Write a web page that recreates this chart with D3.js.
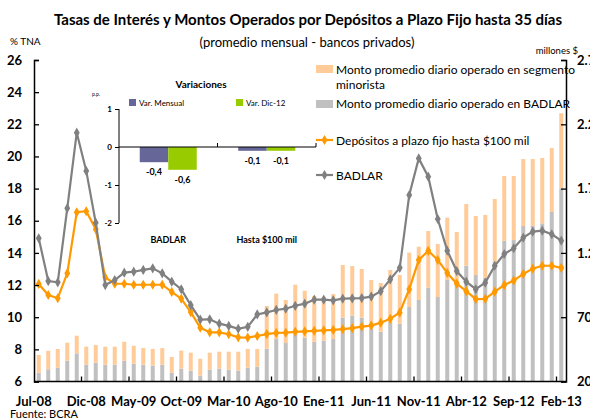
<!DOCTYPE html>
<html>
<head>
<meta charset="utf-8">
<title>Tasas de Interés y Montos Operados</title>
<script src="https://d3js.org/d3.v7.min.js"></script>
<style>
  body { margin: 0; background: #fff; }
  text { font-family: Lato, "Open Sans", sans-serif; fill: #000; }
</style>
</head>
<body>
<svg id="chart"></svg>
<script>
// meses Jul-08 .. Feb-13
var meses = ["Jul-08","Ago-08","Sep-08","Oct-08","Nov-08","Dic-08",
  "Ene-09","Feb-09","Mar-09","Abr-09","May-09","Jun-09","Jul-09","Ago-09","Sep-09","Oct-09","Nov-09","Dic-09",
  "Ene-10","Feb-10","Mar-10","Abr-10","May-10","Jun-10","Jul-10","Ago-10","Sep-10","Oct-10","Nov-10","Dic-10",
  "Ene-11","Feb-11","Mar-11","Abr-11","May-11","Jun-11","Jul-11","Ago-11","Sep-11","Oct-11","Nov-11","Dic-11",
  "Ene-12","Feb-12","Mar-12","Abr-12","May-12","Jun-12","Jul-12","Ago-12","Sep-12","Oct-12","Nov-12","Dic-12",
  "Ene-13","Feb-13"];
var etiquetasX = ["Jul-08","Dic-08","May-09","Oct-09","Mar-10","Ago-10","Ene-11","Jun-11","Nov-11","Abr-12","Sep-12","Feb-13"];

// montos (millones $)
var montoBadlar = [268,295,307,362,419,331,346,331,331,362,338,331,323,331,268,300,284,245,292,300,292,284,307,315,
  455,530,499,567,541,509,517,530,696,712,696,611,587,665,649,779,834,929,857,989,950,1100,1028,1007,1127,1293,1300,
  1409,1409,1430,1518,1702];
var montoMinorista = [138,144,146,140,137,140,138,140,140,147,140,129,130,129,123,140,140,132,132,132,140,148,146,138,
  332,353,335,386,365,356,342,350,410,386,379,378,379,402,379,423,414,441,412,485,413,480,459,488,492,505,498,
  521,521,508,497,584];

// tasas (% TNA)
var tasaBadlar = [14.91,12.25,12.17,16.77,21.48,19.1,15.88,12.0,12.31,12.77,12.83,12.94,13.04,12.73,12.21,11.74,10.75,9.85,
  9.87,9.6,9.46,9.28,9.4,10.17,10.3,10.45,10.53,10.71,10.84,11.09,11.09,11.05,11.15,11.17,11.19,11.28,11.62,12.35,13.07,
  17.6,19.88,18.74,16.11,14.14,12.87,12.21,11.74,12.15,13.2,13.93,14.29,14.95,15.32,15.38,15.16,14.76];
var tasaHasta100 = [12.07,11.38,11.18,12.73,16.53,16.59,15.47,12.48,12.08,12.08,12.02,12.02,12.02,12.02,11.57,11.15,10.32,9.35,
  9.06,9.06,8.94,8.75,8.73,8.83,8.95,9.02,9.04,9.09,9.12,9.15,9.18,9.21,9.26,9.32,9.41,9.48,9.66,9.9,10.29,
  11.74,13.56,14.13,13.56,12.75,12.09,11.62,11.13,11.14,11.59,12.0,12.28,12.69,13.02,13.2,13.2,13.07];

// recuadro de variaciones (p.p.)
var varCategorias = ["BADLAR","Hasta $100 mil"];
var varMensual = [-0.4,-0.1];
var varDic12 = [-0.6,-0.1];

var ticksIzq = [6,8,10,12,14,16,18,20,22,24,26];
var ticksDer = [200,700,1200,1700,2200,2700];

var W = 590, H = 419;
var pLeft = 34, pRight = 566, pTop = 60, pBottom = 381.5;

var svg = d3.select("#chart").attr("width", W).attr("height", H);

var x = d3.scaleBand().domain(meses).range([pLeft, pRight]);
var yL = d3.scaleLinear().domain([6, 26]).range([pBottom, pTop]);
var yR = d3.scaleLinear().domain([200, 2700]).range([pBottom, pTop]);
var bw = 4;
var locAR = d3.formatLocale({decimal: ",", thousands: ".", grouping: [3], currency: ["$",""], minus: "-"});

// barras apiladas
var barras = svg.append("g");
barras.selectAll("rect.gris").data(meses).enter().append("rect")
  .attr("x", function(d) { return x(d) + x.bandwidth()/2 - bw/2; })
  .attr("width", bw)
  .attr("y", function(d, i) { return yR(montoBadlar[i]); })
  .attr("height", function(d, i) { return yR(200) - yR(montoBadlar[i]); })
  .attr("fill", "#C0C0C0");
barras.selectAll("rect.nar").data(meses).enter().append("rect")
  .attr("x", function(d) { return x(d) + x.bandwidth()/2 - bw/2; })
  .attr("width", bw)
  .attr("y", function(d, i) { return yR(montoBadlar[i] + montoMinorista[i]); })
  .attr("height", function(d, i) { return yR(montoBadlar[i]) - yR(montoBadlar[i] + montoMinorista[i]); })
  .attr("fill", "#FFCC99");

// lineas
function linea(vals, color) {
  var g = svg.append("g");
  var line = d3.line()
    .x(function(d, i) { return x(meses[i]) + x.bandwidth()/2; })
    .y(function(d) { return yL(d); });
  g.append("path").datum(vals).attr("d", line)
    .attr("fill", "none").attr("stroke", color).attr("stroke-width", 2.2);
  g.selectAll("path.m").data(vals).enter().append("path")
    .attr("d", d3.symbol().type(d3.symbolDiamond).size(30))
    .attr("transform", function(d, i) { return "translate(" + (x(meses[i]) + x.bandwidth()/2) + "," + yL(d) + ")"; })
    .attr("fill", color);
}
linea(tasaHasta100, "#FF9900");
linea(tasaBadlar, "#808080");

// ejes
var ejeIzq = svg.append("g").attr("transform", "translate(" + pLeft + ",0)")
  .call(d3.axisRight(yL).tickValues(ticksIzq).tickSize(5).tickFormat(d3.format("d")));
ejeIzq.selectAll("text").attr("x", -12).attr("text-anchor", "end")
  .style("font-size", "13px").style("font-weight", "bold").style("font-family", "Lato, sans-serif");

var ejeDer = svg.append("g").attr("transform", "translate(" + pRight + ",0)")
  .call(d3.axisLeft(yR).tickValues(ticksDer).tickSize(5).tickFormat(locAR.format(",d")));
ejeDer.selectAll("text").attr("x", 11).attr("text-anchor", "start")
  .style("font-size", "13px").style("font-weight", "bold").style("font-family", "Lato, sans-serif");

var tickIdx = d3.range(5, 56, 5);
var ejeX = svg.append("g").attr("transform", "translate(0," + pBottom + ")")
  .call(d3.axisTop(x).tickValues(tickIdx.map(function(i) { return meses[i]; })).tickSize(5).tickFormat(""));
ejeX.selectAll(".tick").attr("transform", function(d) { return "translate(" + x(d) + ",0)"; });
ejeX.selectAll(".tick text").remove();

[ejeIzq, ejeDer, ejeX].forEach(function(e) {
  e.select(".domain").attr("stroke", "#000").attr("stroke-width", 1.5);
  e.selectAll(".tick line").attr("stroke", "#000").attr("stroke-width", 1.3);
});
ejeX.select(".domain").attr("d", "M" + pLeft + ",0H" + pRight);

svg.append("g").selectAll("text").data(etiquetasX).enter().append("text")
  .attr("x", function(d, i) { return x(d) + x.bandwidth()/2 - (i === 0 ? 5 : 0); })
  .attr("y", 406)
  .attr("text-anchor", "middle")
  .style("font-size", "13px").style("font-weight", "bold")
  .text(function(d) { return d; });

// titulos
svg.append("text").attr("x", 308).attr("y", 25).attr("text-anchor", "middle")
  .style("font-size", "15px").style("font-weight", "bold")
  .text("Tasas de Interés y Montos Operados por Depósitos a Plazo Fijo hasta 35 días");
svg.append("text").attr("x", 307).attr("y", 47).attr("text-anchor", "middle")
  .style("font-size", "13px")
  .text("(promedio mensual - bancos privados)");
svg.append("text").attr("x", 10).attr("y", 45).style("font-size", "10px").text("% TNA");
svg.append("text").attr("x", 578).attr("y", 54).attr("text-anchor", "end").style("font-size", "9.5px").text("millones $");
svg.append("text").attr("x", 10).attr("y", 418).style("font-size", "11px").text("Fuente: BCRA");

// leyenda
var ley = svg.append("g");
ley.append("rect").attr("x", 316).attr("y", 65).attr("width", 17).attr("height", 8).attr("fill", "#FFCC99");
ley.append("text").attr("x", 336).attr("y", 74).style("font-size", "12px").text("Monto promedio diario operado en segmento");
ley.append("text").attr("x", 336).attr("y", 89).style("font-size", "12px").text("minorista");
ley.append("rect").attr("x", 316).attr("y", 100).attr("width", 17).attr("height", 8).attr("fill", "#C0C0C0");
ley.append("text").attr("x", 336).attr("y", 108).style("font-size", "12px").text("Monto promedio diario operado en BADLAR");
[[140, "#FF9900", "Depósitos a plazo fijo hasta $100 mil"], [175, "#808080", "BADLAR"]].forEach(function(l) {
  ley.append("line").attr("x1", 316).attr("x2", 333).attr("y1", l[0]).attr("y2", l[0])
    .attr("stroke", l[1]).attr("stroke-width", 2.2);
  ley.append("path").attr("d", d3.symbol().type(d3.symbolDiamond).size(30))
    .attr("transform", "translate(324.5," + l[0] + ")").attr("fill", l[1]);
  ley.append("text").attr("x", 336).attr("y", l[0] + 5).style("font-size", "12px").text(l[2]);
});

// recuadro variaciones
var ins = svg.append("g");
var vx = d3.scaleBand().domain(varCategorias).range([119, 316]);
var vy = d3.scaleLinear().domain([-2, 1]).range([223, 109]);
var sub = d3.scaleBand().domain(["m", "d"]).range([0, 57]);
var off = (vx.bandwidth() - 57) / 2;

ins.append("text").attr("x", 201).attr("y", 88).attr("text-anchor", "middle")
  .style("font-size", "10px").style("font-weight", "bold").text("Variaciones");
ins.append("text").attr("x", 92).attr("y", 96).style("font-size", "5px").text("p.p.");
ins.append("rect").attr("x", 129).attr("y", 99).attr("width", 7).attr("height", 7).attr("fill", "#666699");
ins.append("text").attr("x", 139).attr("y", 106).style("font-size", "8px").text("Var. Mensual");
ins.append("rect").attr("x", 236).attr("y", 99).attr("width", 7).attr("height", 7).attr("fill", "#99CC00");
ins.append("text").attr("x", 246).attr("y", 106).style("font-size", "8px").text("Var. Dic-12");

var series = [["m", varMensual, "#666699"], ["d", varDic12, "#99CC00"]];
series.forEach(function(s) {
  ins.selectAll("rect.b" + s[0]).data(varCategorias).enter().append("rect")
    .attr("x", function(d) { return vx(d) + off + sub(s[0]); })
    .attr("width", sub.bandwidth())
    .attr("y", vy(0))
    .attr("height", function(d, i) { return vy(s[1][i]) - vy(0); })
    .attr("fill", s[2]);
  ins.selectAll("text.v" + s[0]).data(varCategorias).enter().append("text")
    .attr("x", function(d) { return vx(d) + off + sub(s[0]) + sub.bandwidth()/2; })
    .attr("y", function(d, i) { return vy(s[1][i]) + 13; })
    .attr("text-anchor", "middle")
    .style("font-size", "9px").style("font-weight", "bold")
    .text(function(d, i) { return locAR.format(".1f")(s[1][i]); });
});

var insY = ins.append("g").attr("transform", "translate(119,0)")
  .call(d3.axisLeft(vy).tickValues([-2, -1, 0, 1]).tickSize(4).tickFormat(locAR.format("d")));
insY.selectAll("text").style("font-size", "8px").style("font-weight", "bold").attr("x", -7);
insY.select(".domain").attr("d", "M0," + vy(1) + "V" + vy(-2)).attr("stroke", "#000");
insY.selectAll(".tick line").attr("stroke", "#000");

var insX = ins.append("g").attr("transform", "translate(0," + vy(0) + ")")
  .call(d3.axisTop(vx).tickSize(4).tickFormat(""));
insX.selectAll(".tick").attr("transform", function(d) { return "translate(" + (vx(d) + vx.bandwidth()) + ",0)"; });
insX.select(".domain").attr("d", "M119,0H316").attr("stroke", "#000");
insX.selectAll(".tick line").attr("stroke", "#000");

ins.selectAll("text.cat").data(varCategorias).enter().append("text")
  .attr("x", function(d) { return vx(d) + vx.bandwidth()/2; })
  .attr("y", 243)
  .attr("text-anchor", "middle")
  .style("font-size", "9px").style("font-weight", "bold")
  .text(function(d) { return d; });
</script>
</body>
</html>
